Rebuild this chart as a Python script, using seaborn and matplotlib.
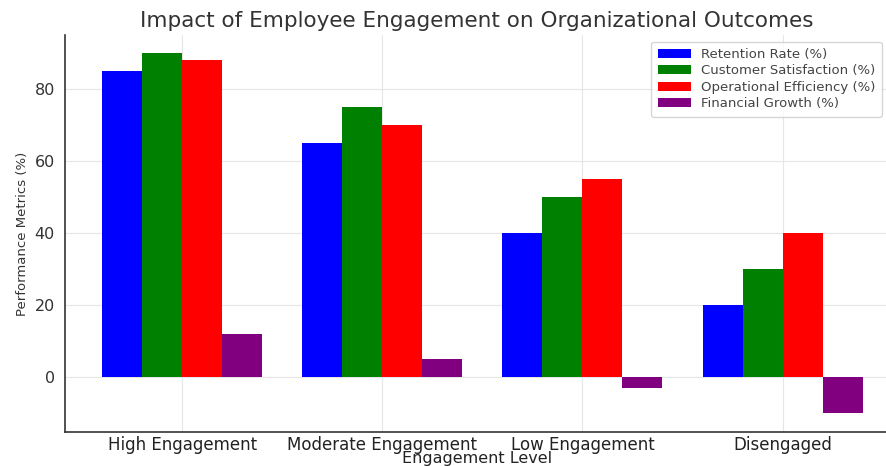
import numpy as np
import pandas as pd
import matplotlib
matplotlib.use('Agg')
import matplotlib.pyplot as plt
import seaborn as sns

# data
levels = ['High Engagement', 'Moderate Engagement', 'Low Engagement', 'Disengaged']
metrics = ['Retention Rate (%)', 'Customer Satisfaction (%)', 'Operational Efficiency (%)', 'Financial Growth (%)']
retention = [85, 65, 40, 20]
satisfaction = [90, 75, 50, 30]
efficiency = [88, 70, 55, 40]
growth = [12, 5, -3, -10]
colors = ['blue', 'green', 'red', 'purple']

sns.set_style('whitegrid')
plt.rcParams['font.family'] = ['DejaVu Sans']

fig = plt.figure(figsize=(8.86, 4.66), dpi=100)
ax = fig.add_axes([0.073, 0.073, 0.93, 0.852])

x = np.arange(len(levels))
width = 0.2
for i, (vals, name) in enumerate(zip([retention, satisfaction, efficiency, growth], metrics)):
    ax.bar(x + i * width, vals, width, label=name, color=colors[i], linewidth=0)

ax.set_xticks(x + 1.5 * width)
ax.set_xticklabels(levels, fontsize=12, color='#222222')
ax.tick_params(axis='y', labelsize=11.5, colors='#333333')
ax.tick_params(axis='x', colors='#222222', length=3, pad=0)
ax.set_xlim(-0.287, 3.83)
ax.set_ylim(-15.3, 95)
ax.set_yticks([0, 20, 40, 60, 80])
ax.set_xlabel('Engagement Level', fontsize=11.5, labelpad=-2, color='#222222')
ax.set_ylabel('Performance Metrics (%)', fontsize=9.5, color='#333333')
ax.set_title('Impact of Employee Engagement on Organizational Outcomes', fontsize=15.5, pad=6, color='#333333')
ax.grid(True, color='#e6e6e6', linewidth=0.8)
for s in ['top', 'right']:
    ax.spines[s].set_visible(False)
for s in ['left', 'bottom']:
    ax.spines[s].set_color('#333333')
    ax.spines[s].set_linewidth(1.2)
leg = ax.legend(loc='upper right', fontsize=9.5, frameon=True, borderpad=0.5,
                handlelength=2.5, labelspacing=0.25, bbox_to_anchor=(1.0, 1.0))
for t in leg.get_texts():
    t.set_color('#444444')

fig.savefig('out.png', dpi=100)
